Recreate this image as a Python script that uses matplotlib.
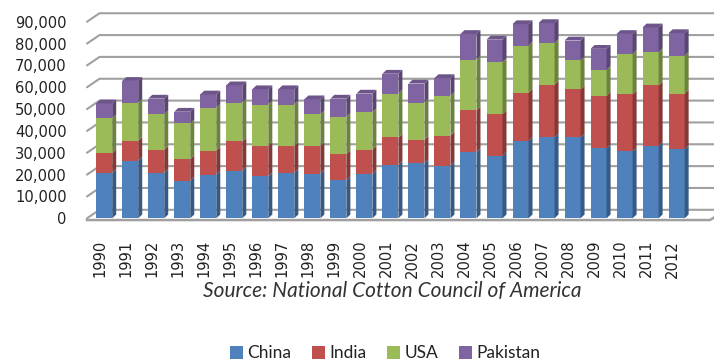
import numpy as np
import matplotlib.pyplot as plt
from matplotlib.patches import Polygon
from matplotlib.colors import to_rgb

# 棉花产量（千包），堆叠柱状图，仿 Excel 三维柱形
years = [str(y) for y in range(1990, 2013)]
china = [20800, 26400, 20800, 17300, 20000, 21800, 19200, 20800, 20500, 17400, 20300, 24500,
         25300, 24100, 30300, 28600, 35500, 37100, 37000, 32100, 30600, 33200, 31700]
india = [9000, 9100, 10600, 9800, 11000, 13400, 14000, 12400, 12700, 12000, 11100, 12500,
         10600, 13800, 19200, 19100, 22100, 24100, 22100, 24000, 26200, 27700, 25400]
usa = [16000, 17500, 16300, 16400, 19600, 17800, 18900, 18900, 14400, 17100, 17100, 20100,
       17100, 18200, 23200, 23800, 21500, 19100, 13200, 11900, 18500, 15200, 17400]
pakistan = [6800, 9900, 7100, 5300, 6100, 7900, 7000, 7000, 6900, 8300, 8600, 9100,
            8700, 8100, 11700, 10300, 9800, 9100, 9100, 9600, 9100, 11300, 10300]
series_names = ["China", "India", "USA", "Pakistan"]
colors = ["#4F81BD", "#C0504D", "#9BBB59", "#8064A2"]

yticks = list(range(0, 90001, 10000))

W, H = 714, 362
PX_PER_UNIT = 26.02          # 柱间距（像素）
PX_PER_VAL = 21.84 / 10000   # 纵轴比例（像素/数值）
X0_PX = 104.2                # 第一根柱中心
Y0_PX = 218.3                # 数值 0 的位置（从顶部算）
AX_LEFT_PX = 87


def shade(c, f):
    r, g, b = to_rgb(c)
    return (r * f, g * f, b * f)


fig = plt.figure(figsize=(W / 100, H / 100), dpi=100)
ax = fig.add_axes([AX_LEFT_PX / W, 1 - Y0_PX / H, 1 - AX_LEFT_PX / W, Y0_PX / H])
x_lo = (AX_LEFT_PX - X0_PX) / PX_PER_UNIT
x_hi = (W - X0_PX) / PX_PER_UNIT
ax.set_xlim(x_lo, x_hi)
ax.set_ylim(0, Y0_PX / PX_PER_VAL)
for s in ax.spines.values():
    s.set_visible(False)

# 深度偏移（数据单位）
wall_dx = 12.5 / PX_PER_UNIT
wall_dy = 8.5 / PX_PER_VAL
bar_dx = 4 / PX_PER_UNIT
bar_dy = 3.8 / PX_PER_VAL
bar_w = 16 / PX_PER_UNIT

# 背景墙网格线
grid_c = "#a0a0a0"
for v in yticks:
    ax.plot([x_lo, x_lo + wall_dx, x_hi], [v, v + wall_dy, v + wall_dy],
            color=grid_c, lw=1.5, zorder=0, clip_on=False, solid_capstyle="round")
# 底面前沿
floor_y = -0.08 * 10000
x_floor_end = (710 - X0_PX) / PX_PER_UNIT
ax.plot([x_lo, x_floor_end, x_floor_end + 0.2], [floor_y, floor_y, floor_y + 1500],
        color=grid_c, lw=1.8, zorder=0, clip_on=False)

idx = np.arange(len(years))
data = [china, india, usa, pakistan]
bottom = np.zeros(len(years))
for k, (vals, c) in enumerate(zip(data, colors)):
    vals = np.array(vals, dtype=float)
    ax.bar(idx, vals, width=bar_w, bottom=bottom, color=c, label=series_names[k],
           zorder=3, linewidth=0)
    for i in idx:
        xr = i + bar_w / 2
        b, t = bottom[i], bottom[i] + vals[i]
        side = Polygon([(xr, b), (xr + bar_dx, b + bar_dy), (xr + bar_dx, t + bar_dy), (xr, t)],
                       closed=True, facecolor=shade(c, 0.7), edgecolor="none", zorder=3)
        ax.add_patch(side)
        if k == len(data) - 1:
            xl = i - bar_w / 2
            top = Polygon([(xl, t), (xr, t), (xr + bar_dx, t + bar_dy), (xl + bar_dx, t + bar_dy)],
                          closed=True, facecolor=shade(c, 0.85), edgecolor="none", zorder=3)
            ax.add_patch(top)
    bottom = bottom + vals

# 坐标轴文字
ax.set_yticks(yticks)
ax.set_yticklabels([f"{v:,}" for v in yticks], fontsize=10.6, color="#222222",
                   family="DejaVu Sans")
ax.tick_params(axis="y", length=0, pad=14.5)
ax.set_xticks(idx - 4.5 / PX_PER_UNIT)
ax.set_xticklabels(years, rotation=90, fontsize=10.6, color="#222222", family="DejaVu Sans")
ax.tick_params(axis="x", length=0, pad=15.5)

fig.text(392 / W, 1 - 296.7 / H, "Source: National Cotton Council of America",
         ha="center", va="baseline", fontsize=15, style="italic", family="Lato",
         color="#333333")

leg = fig.legend(loc="center", bbox_to_anchor=(385 / W, 1 - 353.5 / H), ncol=4,
                 frameon=False, prop={"family": "Lato", "size": 12.5},
                 handlelength=0.75, handleheight=0.75, handletextpad=0.25,
                 columnspacing=1.2, borderpad=0.1)
for t in leg.get_texts():
    t.set_color("#222222")

fig.savefig("out.png", dpi=100)
